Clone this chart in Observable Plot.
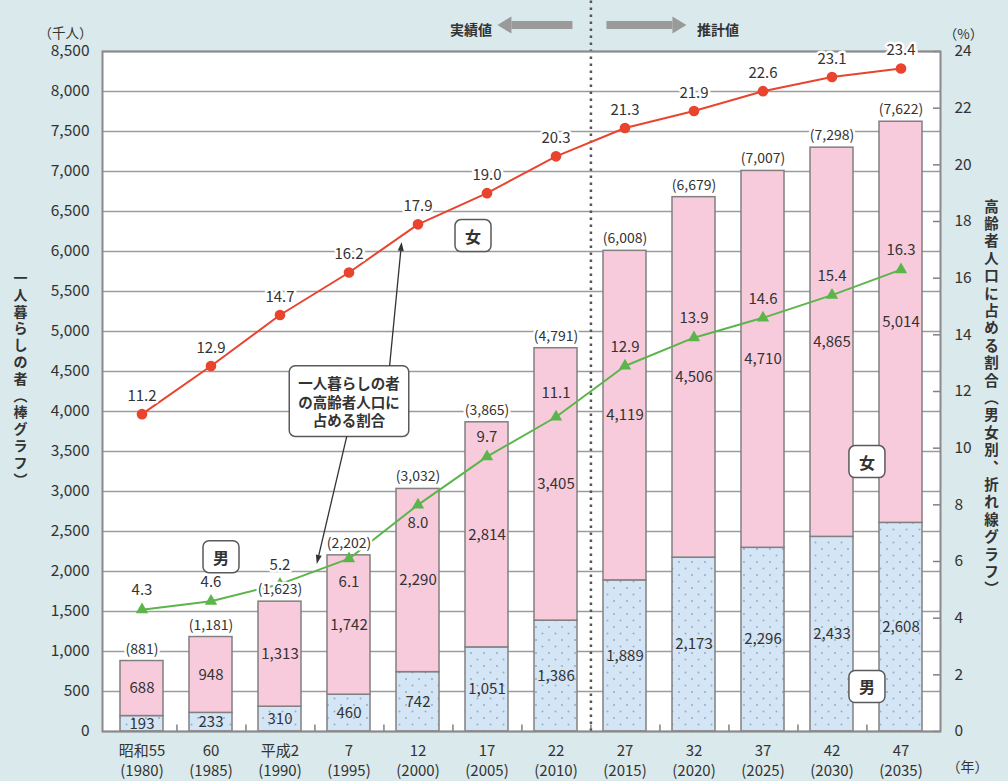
<!DOCTYPE html>
<html><head><meta charset="utf-8">
<script src="https://cdn.jsdelivr.net/npm/d3@7"></script>
<script src="https://cdn.jsdelivr.net/npm/@observablehq/plot@0.6"></script>
<style>
html,body{margin:0;padding:0;background:#dae9ec;}
#chart svg{display:block;}
</style></head><body><div id="chart"></div>
<script>
// ---- data ----
const categories = ["昭和55\n(1980)","60\n(1985)","平成2\n(1990)","7\n(1995)","12\n(2000)","17\n(2005)","22\n(2010)","27\n(2015)","32\n(2020)","37\n(2025)","42\n(2030)","47\n(2035)"];
const maleCount   = [193, 233, 310, 460, 742, 1051, 1386, 1889, 2173, 2296, 2433, 2608];
const femaleCount = [688, 948, 1313, 1742, 2290, 2814, 3405, 4119, 4506, 4710, 4865, 5014];
const totalCount  = [881, 1181, 1623, 2202, 3032, 3865, 4791, 6008, 6679, 7007, 7298, 7622];
const femaleRate  = [11.2, 12.9, 14.7, 16.2, 17.9, 19.0, 20.3, 21.3, 21.9, 22.6, 23.1, 23.4];
const maleRate    = [4.3, 4.6, 5.2, 6.1, 8.0, 9.7, 11.1, 12.9, 13.9, 14.6, 15.4, 16.3];
const leftTicks   = d3.range(0, 8501, 500);
const rightTicks  = d3.range(0, 25, 2);
const leftTitle   = "一人暮らしの者︵棒グラフ︶";
const rightTitle  = "高齢者人口に占める割合︵男女別︑折れ線グラフ︶";
const calloutText = "一人暮らしの者\nの高齢者人口に\n占める割合";

// ---- layout ----
const W = 1008, H = 781, ML = 102, MR = 68, MT = 51, MB = 50;
const PI = 0.377, PO = 0.186;
const step = (W - ML - MR) / (categories.length - PI + 2 * PO);
const K = 8500 / 24; // % -> left-axis units
const fmt = d3.format(",");
const font = "'Noto Sans CJK JP', 'Noto Sans', sans-serif";
const ink = "#333";
const red = "#e8442e", green = "#5bb54a";

const rows = categories.map((cat, i) => ({cat, i, male: maleCount[i], female: femaleCount[i], total: totalCount[i], fr: femaleRate[i], mr: maleRate[i]}));

const plot = Plot.plot({
  width: W, height: H, marginLeft: ML, marginRight: MR, marginTop: MT, marginBottom: MB,
  style: {background: "#dae9ec", fontFamily: font, color: ink, overflow: "visible"},
  x: {domain: categories, paddingInner: PI, paddingOuter: PO, label: null},
  y: {domain: [0, 8500], label: null},
  marks: [
    Plot.frame({fill: "white", stroke: "none"}),
    Plot.gridY(leftTicks, {stroke: "#9c9c9c", strokeOpacity: 1, strokeWidth: 1.6}),
    Plot.barY(rows, {x: "cat", y1: d => 0, y2: "male", fill: "#d3e5f6", stroke: "#808080", strokeWidth: 1.5, ariaDescription: "male-bars"}),
    Plot.barY(rows, {x: "cat", y1: "male", y2: "total", fill: "#f8cbdc", stroke: "#808080", strokeWidth: 1.5}),
    Plot.ruleX(categories.slice(0, -1), {dx: step / 2, y1: 0, y2: 80, stroke: "#808080", strokeWidth: 1.5}),
    Plot.ruleX([categories[6]], {dx: step / 2, y1: 0, y2: 9150, stroke: "#555", strokeWidth: 2.5, strokeDasharray: "2.5,4.5"}),
    Plot.ruleY(rightTicks.map(v => v * K), {insetLeft: (W - ML - MR) - 7, stroke: "#808080", strokeWidth: 1.5}),
    Plot.frame({stroke: "#8a8a8a", strokeWidth: 2}),
    // lines
    Plot.line(rows, {x: "cat", y: d => d.fr * K, stroke: red, strokeWidth: 2}),
    Plot.dot(rows, {x: "cat", y: d => d.fr * K, r: 4.6, fill: red, stroke: red}),
    Plot.line(rows, {x: "cat", y: d => d.mr * K, stroke: green, strokeWidth: 2}),
    Plot.dot(rows, {x: "cat", y: d => d.mr * K, symbol: "triangle", r: 4.6, fill: green}),
    // bar labels
    Plot.text(rows, {x: "cat", y: "total", text: d => `(${fmt(d.total)})`, dy: -12, fontSize: 14, fill: ink, stroke: "white", strokeWidth: 5, paintOrder: "stroke"}),
    Plot.text(rows, {x: "cat", y: d => d.male / 2, text: d => fmt(d.male), fontSize: 15, fill: ink}),
    Plot.text(rows, {x: "cat", y: d => d.male + d.female / 2, text: d => fmt(d.female), fontSize: 15, fill: ink}),
    // rate labels
    Plot.text(rows, {x: "cat", y: d => d.fr * K, text: d => d.fr.toFixed(1), dy: -18, fontSize: 15, fill: ink, stroke: "white", strokeWidth: 5, paintOrder: "stroke"}),
    Plot.text(rows, {filter: d => d.i < 3, x: "cat", y: d => d.mr * K, text: d => d.mr.toFixed(1), dy: -19, fontSize: 15, fill: ink, stroke: "white", strokeWidth: 5, paintOrder: "stroke"}),
    Plot.text(rows, {filter: d => d.i >= 5 && d.i !== 6, x: "cat", y: d => d.mr * K, text: d => d.mr.toFixed(1), dy: -19, fontSize: 15, fill: ink}),
    Plot.text(rows, {filter: d => d.i === 6, x: "cat", y: d => d.mr * K, text: d => d.mr.toFixed(1), dy: -24, fontSize: 15, fill: ink}),
    Plot.text(rows, {filter: d => d.i === 3, x: "cat", y: d => d.mr * K, text: d => d.mr.toFixed(1), dy: 24, fontSize: 15, fill: ink}),
    Plot.text(rows, {filter: d => d.i === 4, x: "cat", y: d => d.mr * K, text: d => d.mr.toFixed(1), dy: 18, fontSize: 15, fill: ink}),
    // annotation boxes
    Plot.text([{c: categories[5], v: 6175, t: "女"}], {x: "c", y: "v", text: "t", dx: -14, fontSize: 16, fontWeight: "bold", fill: ink, ariaDescription: "boxed-char"}),
    Plot.text([{c: categories[1], v: 2162, t: "男"}], {x: "c", y: "v", text: "t", dx: 10, fontSize: 16, fontWeight: "bold", fill: ink, ariaDescription: "boxed-char"}),
    Plot.text([{c: categories[10], v: 3350, t: "女"}, {c: categories[10], v: 540, t: "男"}], {x: "c", y: "v", text: "t", dx: step / 2, fontSize: 16, fontWeight: "bold", fill: ink, ariaDescription: "boxed-char"}),
    Plot.text([{c: categories[3], v: 4125}], {x: "c", y: "v", text: () => calloutText, fontSize: 14.5, fontWeight: "bold", lineHeight: 1.3, fill: ink, ariaDescription: "boxed-callout"}),
    // header texts
    Plot.text([categories[6]], {x: d => d, frameAnchor: "top", dy: -26, dx: step / 2 - 99, text: () => "実績値", textAnchor: "end", fontSize: 14, fontWeight: "bold", fill: ink}),
    Plot.text([categories[6]], {x: d => d, frameAnchor: "top", dy: -26, dx: step / 2 + 106, text: () => "推計値", textAnchor: "start", fontSize: 14, fontWeight: "bold", fill: ink}),
    // axes
    Plot.axisY(leftTicks, {anchor: "left", tickSize: 0, tickPadding: 13, tickFormat: fmt, fontSize: 15.5, label: null}),
    Plot.axisY(rightTicks.map(v => v * K), {anchor: "right", tickSize: 0, tickPadding: 14, tickFormat: v => String(Math.round(v / K)), fontSize: 15.5, label: null}),
    Plot.axisX({tickSize: 0, tickPadding: 11, fontSize: 15, lineHeight: 1.3, label: null}),
    // unit labels and titles
    Plot.text(["（千人）"], {frameAnchor: "top-left", textAnchor: "middle", dx: -37, dy: -23, fontSize: 13.5, fill: ink}),
    Plot.text(["（%）"], {frameAnchor: "top-right", textAnchor: "middle", dx: 23, dy: -22, fontSize: 13.5, fill: ink}),
    Plot.text(["（年）"], {frameAnchor: "bottom-right", textAnchor: "middle", dx: 27, dy: 40, fontSize: 14, fill: ink}),
    Plot.text([leftTitle], {frameAnchor: "left", textAnchor: "middle", dx: -82, dy: -13, text: d => [...d].join("\n"), lineHeight: 1.2, fontSize: 14, fontWeight: "bold", fill: ink}),
    Plot.text([rightTitle], {frameAnchor: "right", textAnchor: "middle", dx: 51, dy: 6, text: d => [...d].join("\n"), lineHeight: 1.2, fontSize: 14.5, fontWeight: "bold", fill: ink})
  ]
});
document.getElementById("chart").append(plot);

// ---- post-processing: pattern, boxes, arrows ----
const svg = d3.select(plot);
const xs = plot.scale("x"), ys = plot.scale("y");
const cx = c => xs.apply(c) + xs.bandwidth / 2;
const Y = v => ys.apply(v);

const defs = svg.insert("defs", ":first-child");
const pat = defs.append("pattern").attr("id", "dots").attr("width", 13).attr("height", 13).attr("patternUnits", "userSpaceOnUse");
pat.append("rect").attr("width", 13).attr("height", 13).attr("fill", "#d4e6f6");
pat.append("circle").attr("cx", 3).attr("cy", 3).attr("r", 1).attr("fill", "#92adc8");
pat.append("circle").attr("cx", 9.5).attr("cy", 9.5).attr("r", 1).attr("fill", "#92adc8");
svg.selectAll('g[aria-description="male-bars"] rect').attr("fill", "url(#dots)");

function boxAround(sel, fixedW, fixedH, padX, padY) {
  const out = [];
  sel.each(function () {
    const b = this.getBBox();
    const w = fixedW || b.width + 2 * padX, h = fixedH || b.height + 2 * padY;
    const r = document.createElementNS("http://www.w3.org/2000/svg", "rect");
    r.setAttribute("x", b.x + b.width / 2 - w / 2);
    r.setAttribute("y", b.y + b.height / 2 - h / 2);
    r.setAttribute("width", w); r.setAttribute("height", h);
    r.setAttribute("rx", 6); r.setAttribute("fill", "white");
    r.setAttribute("stroke", "#5a5a5a"); r.setAttribute("stroke-width", 1.5);
    if (this.getAttribute("transform")) r.setAttribute("transform", this.getAttribute("transform"));
    this.parentNode.insertBefore(r, this);
    const m = r.getCTM();
    out.push({x: m.e + b.x + b.width / 2 - w / 2, y: m.f + b.y + b.height / 2 - h / 2, w, h});
  });
  return out;
}
boxAround(svg.selectAll('g[aria-description="boxed-char"] text'), 36, 32);
const cbs = boxAround(svg.selectAll('g[aria-description="boxed-callout"] text'), 0, 0, 9, 6);

const ag = svg.append("g");
function arrow(x1, y1, x2, y2, color, width, headLen, headW) {
  const a = Math.atan2(y2 - y1, x2 - x1);
  const bx = x2 - headLen * Math.cos(a), by = y2 - headLen * Math.sin(a);
  ag.append("line").attr("x1", x1).attr("y1", y1).attr("x2", bx).attr("y2", by).attr("stroke", color).attr("stroke-width", width);
  const px = -Math.sin(a) * headW / 2, py = Math.cos(a) * headW / 2;
  ag.append("path").attr("d", `M${x2},${y2}L${bx + px},${by + py}L${bx - px},${by - py}Z`).attr("fill", color);
}
const lerp = (a, b, t) => a + (b - a) * t;
// header arrows
const dotX = cx(categories[6]) + step / 2;
arrow(dotX - 18, 25, dotX - 93, 25, "#9a9a9a", 8, 14, 17);
arrow(dotX + 16, 25, dotX + 96, 25, "#9a9a9a", 8, 14, 17);
// callout arrows
const cb = cbs[0] || {y: Y(4125) - 36, h: 72};
const fu = {x: lerp(cx(categories[3]), cx(categories[4]), 0.77), y: lerp(Y(femaleRate[3] * K), Y(femaleRate[4] * K), 0.77) + 7};
arrow(fu.x - 12, cb.y, fu.x, fu.y, "#333", 1.3, 9, 6);
const ml = {x: lerp(cx(categories[2]), cx(categories[3]), 0.54), y: lerp(Y(maleRate[2] * K), Y(maleRate[3] * K), 0.54) - 6};
arrow(ml.x + 30, cb.y + cb.h, ml.x, ml.y, "#333", 1.3, 9, 6);
</script>
</body></html>
